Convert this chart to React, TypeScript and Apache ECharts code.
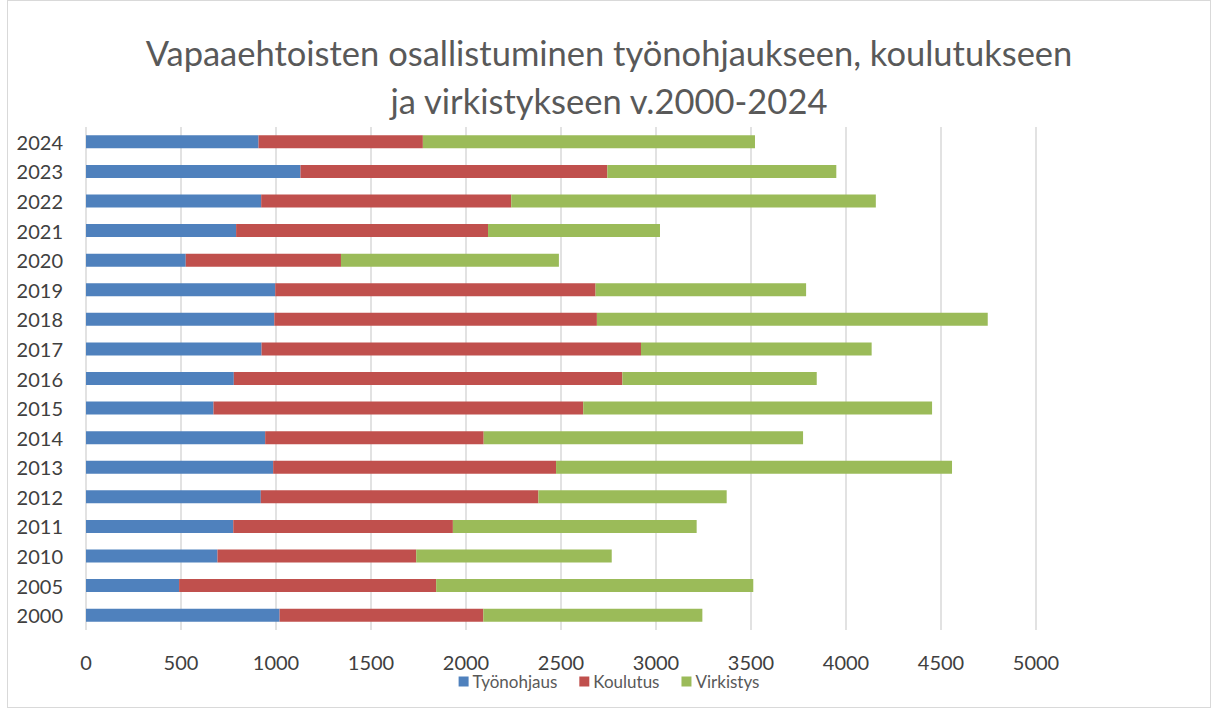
import React, { useEffect, useRef } from "react";
import * as echarts from "echarts";

const years = ["2000", "2005", "2010", "2011", "2012", "2013", "2014", "2015", "2016", "2017", "2018", "2019", "2020", "2021", "2022", "2023", "2024"];
const tyonohjaus = [1019, 490, 692, 775, 920, 985, 943, 671, 778, 924, 991, 996, 525, 790, 922, 1129, 908];
const koulutus = [1072, 1353, 1046, 1156, 1461, 1489, 1150, 1946, 2045, 1997, 1698, 1686, 817, 1326, 1316, 1615, 865];
const virkistys = [1153, 1669, 1029, 1283, 991, 2084, 1681, 1836, 1023, 1214, 2057, 1108, 1147, 905, 1919, 1205, 1748];
const seriesNames = ["Työnohjaus", "Koulutus", "Virkistys"];
const colors = ["#4F81BD", "#C0504D", "#9BBB59"];
const titleText = "Vapaaehtoisten osallistuminen työnohjaukseen, koulutukseen\nja virkistykseen v.2000-2024";

export default function App() {
  const ref = useRef<HTMLDivElement>(null);
  useEffect(() => {
    if (!ref.current) return;
    const chart = echarts.init(ref.current, undefined, { renderer: "svg" });
    const data = [tyonohjaus, koulutus, virkistys];
    chart.setOption({
      animation: false,
      title: {
        text: titleText,
        left: "center",
        top: 22,
        textStyle: {
          fontFamily: "Lato",
          fontSize: 34.5,
          fontWeight: "normal",
          color: "#595959",
          lineHeight: 48,
        },
      },
      legend: {
        data: seriesNames,
        top: 672,
        left: "center",
        padding: 0,
        itemWidth: 10,
        itemHeight: 10,
        itemGap: 22,
        icon: "rect",
        textStyle: { fontFamily: "Lato", fontSize: 17, lineHeight: 17, color: "#595959", padding: [0, 0, 0, -1] },
      },
      grid: { left: 78, width: 950, top: 126, height: 503 },
      xAxis: {
        type: "value",
        min: 0,
        max: 5000,
        interval: 500,
        axisLine: { show: false },
        axisTick: { show: false },
        splitLine: { lineStyle: { color: "#d9d9d9", width: 1.5 } },
        axisLabel: {
          fontFamily: "Lato",
          fontSize: 20,
          lineHeight: 20,
          color: "#404040",
          margin: 22,
          formatter: (v: number) => String(v),
        },
      },
      yAxis: {
        type: "category",
        data: years,
        axisLine: { show: false },
        axisTick: { show: false },
        axisLabel: { fontFamily: "Lato", fontSize: 20, color: "#404040", margin: 23 },
      },
      series: seriesNames.map((name, i) => ({
        name,
        type: "bar",
        stack: "total",
        barWidth: 13,
        data: data[i],
        itemStyle: { color: colors[i] },
      })),
    });
    return () => chart.dispose();
  }, []);
  return (
    <div
      style={{
        position: "absolute",
        left: 7,
        top: 0,
        width: 1204,
        height: 708,
        border: "1px solid #d9d9d9",
        boxSizing: "border-box",
        background: "#fff",
      }}
    >
      <div ref={ref} style={{ width: 1202, height: 706 }} />
    </div>
  );
}
